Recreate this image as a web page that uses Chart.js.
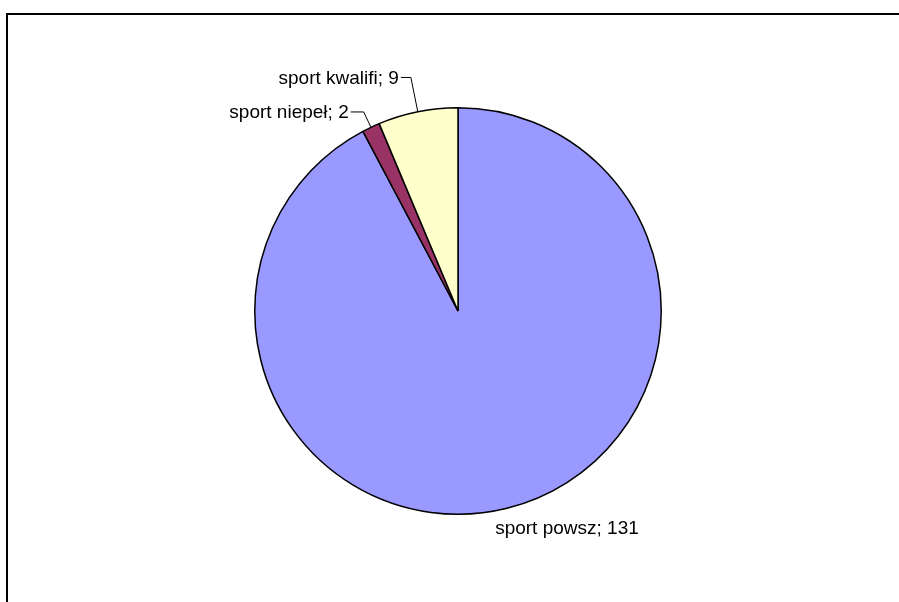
<!DOCTYPE html>
<html>
<head>
<meta charset="utf-8">
<script src="https://cdn.jsdelivr.net/npm/chart.js@4"></script>
<style>
    html, body { margin: 0; padding: 0; background: #fff; }
    #wrap { position: relative; width: 899px; height: 602px; overflow: hidden; }
    #frame {
        position: absolute; left: 6px; top: 13px; width: 900px; height: 600px;
        border-top: 2px solid #000; border-left: 2px solid #000;
    }
    canvas { position: absolute; left: 0; top: 0; }
</style>
</head>
<body>
<div id="wrap">
    <div id="frame"></div>
    <canvas id="pieChart" width="899" height="602"></canvas>
</div>
<script>
/**
 * Sport pie chart
 */

const categories = ['sport powsz', 'sport niepeł', 'sport kwalifi'];
const values = [131, 2, 9];
const sliceColors = ['#9999FF', '#993366', '#FFFFCC'];

// Label placement per slice (leader = radial distance to elbow, hlen = horizontal run)
const labelLayout = [
    { dx: 60, dy: 21 },
    { leader: 17, hlen: 13 },
    { leader: 35, hlen: 10 }
];

const labelFont = '19px "Liberation Sans", Arial, sans-serif';

/**
 * Draw the "name; value" labels with leader lines
 */
const pieLabels = {
    id: 'pieLabels',
    afterDatasetsDraw(chart) {
        const ctx = chart.ctx;
        const arcs = chart.getDatasetMeta(0).data;
        ctx.save();
        ctx.font = labelFont;
        ctx.fillStyle = '#000';
        ctx.strokeStyle = '#000';
        ctx.lineWidth = 1;
        ctx.textBaseline = 'middle';

        arcs.forEach((arc, i) => {
            const p = arc.getProps(['x', 'y', 'startAngle', 'endAngle', 'outerRadius'], true);
            const mid = (p.startAngle + p.endAngle) / 2;
            const ex = p.x + Math.cos(mid) * p.outerRadius;
            const ey = p.y + Math.sin(mid) * p.outerRadius;
            const text = `${categories[i]}; ${values[i]}`;
            const lay = labelLayout[i];

            if (lay.leader === undefined) {
                ctx.textAlign = 'center';
                ctx.fillText(text, ex + lay.dx, ey + lay.dy);
                return;
            }

            const bx = ex + Math.cos(mid) * lay.leader;
            const by = ey + Math.sin(mid) * lay.leader;
            const side = Math.cos(mid) < 0 ? -1 : 1;
            const tx = bx + side * lay.hlen;

            ctx.beginPath();
            ctx.moveTo(ex, ey);
            ctx.lineTo(bx, by);
            ctx.lineTo(tx, by);
            ctx.stroke();

            ctx.textAlign = side < 0 ? 'right' : 'left';
            ctx.fillText(text, tx + side * 2, by + 1);
        });
        ctx.restore();
    }
};

document.addEventListener('DOMContentLoaded', function() {
    const ctx = document.getElementById('pieChart').getContext('2d');
    new Chart(ctx, {
        type: 'pie',
        data: {
            labels: categories,
            datasets: [{
                data: values,
                backgroundColor: sliceColors,
                borderColor: '#000',
                borderWidth: 1.5
            }]
        },
        options: {
            responsive: false,
            animation: false,
            layout: {
                padding: { left: 254, right: 237, top: 107, bottom: 87 }
            },
            plugins: {
                legend: { display: false },
                tooltip: { enabled: false }
            }
        },
        plugins: [pieLabels]
    });
});
</script>
</body>
</html>
